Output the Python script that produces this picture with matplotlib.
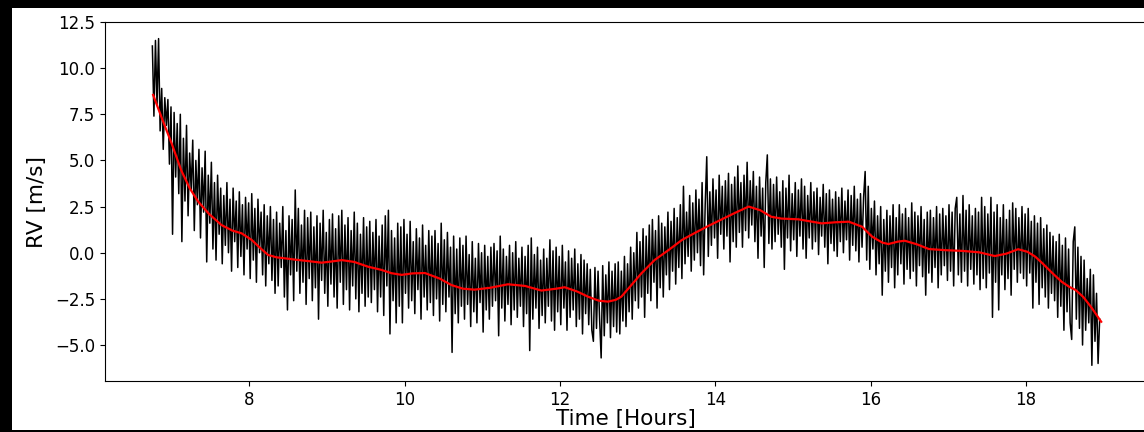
import numpy as np
import matplotlib
matplotlib.use("Agg")
import matplotlib.pyplot as plt
from matplotlib.patches import Rectangle

# ---- data ----
t_start = 6.75      # hours
t_step = 0.02       # hours between samples

rv_raw = [
    11.2, 7.4, 11.5, 8.0, 11.6, 6.6, 8.9, 5.6, 8.4, 6.9, 8.3, 4.8, 7.9, 1.0, 7.6, 4.1, 7.0, 3.2, 7.5, 0.6,
    6.2, 2.8, 6.9, 2.0, 5.4, 3.4, 6.1, 1.2, 5.0, 2.6, 5.6, 0.8, 4.6, 2.2, 5.5, -0.5, 4.2, 1.6, 4.9, 0.2,
    3.8, -0.4, 4.2, 1.0, 3.5, -0.6, 3.1, 0.4, 3.8, 0.0, 2.9, -1.0, 3.5, 0.6, 2.8, -0.8, 3.3, -0.2, 2.6, -1.2,
    3.0, 0.2, 2.7, -1.4, 3.2, -0.4, 2.4, -1.6, 2.9, 0.0, 2.2, -1.2, 2.6, -1.8, 2.0, -0.6, 2.5, -1.5, 1.8, -2.2,
    2.2, -1.8, 1.6, -0.8, 2.5, -2.4, 1.2, -3.1, 2.0, -1.2, 1.8, -2.6, 3.4, -1.0, 2.4, -2.2, 1.5, -1.6, 2.3, -2.8,
    1.9, -1.4, 2.2, -2.6, 1.4, -1.9, 2.0, -3.6, 1.6, -1.5, 2.3, -2.2, 1.1, -2.9, 1.8, -1.7, 2.1, -2.4, 1.3, -3.0,
    2.0, -1.6, 2.3, -2.8, 1.5, -2.0, 1.9, -3.1, 1.2, -1.8, 2.2, -2.5, 1.6, -3.2, 1.0, -2.2, 1.9, -2.9, 1.4, -2.4,
    1.7, -2.7, 1.1, -2.0, 1.8, -3.2, 0.9, -2.4, 1.5, -3.4, 2.0, -1.8, 2.3, -4.4, 1.2, -2.6, 0.8, -3.8, 1.6, -2.9,
    1.4, -3.8, 1.8, -2.2, 1.0, -3.0, 1.7, -2.6, 0.6, -3.3, 1.3, -2.0, 0.8, -3.6, 1.5, -2.4, 0.4, -3.1, 1.2, -2.7,
    0.9, -3.4, 1.2, -2.5, 0.5, -3.7, 1.6, -2.8, 0.7, -3.2, 1.1, -2.4, 0.3, -5.4, 0.9, -3.3, 0.2, -3.8, 0.8, -2.9,
    0.4, -3.6, 0.9, -2.8, -0.1, -4.0, 0.6, -3.2, -0.3, -3.8, 0.5, -2.7, 0.0, -4.3, 0.4, -3.1, -0.2, -3.6, 0.3, -2.9,
    0.5, -2.6, 0.1, -4.5, 0.9, -3.0, 0.2, -3.7, -0.2, -2.8, 0.4, -3.9, 0.0, -3.1, 0.6, -3.5, -0.3, -2.9, 0.3, -4.0,
    -0.2, -3.3, 0.4, -5.3, 0.8, -3.6, -0.1, -3.0, 0.3, -4.1, -0.4, -3.4, 0.2, -3.8, -0.3, -2.9, 0.7, -3.7, 0.1, -4.2,
    0.3, -3.2, -0.2, -3.9, 0.4, -3.0, -0.5, -4.2, 0.1, -3.5, -0.3, -3.1, 0.2, -4.0, -0.6, -3.6, -0.1, -4.4, -0.4, -3.3,
    -0.6, -3.9, -0.9, -4.2, -4.8, -0.8, -4.1, -1.0, -3.6, -5.7, -0.7, -4.5, -1.2, -3.8, -0.5, -4.6, -1.0, -4.0, -0.6, -4.3,
    -0.5, -4.4, -1.0, -3.7, -0.2, -4.0, -0.6, -3.2, 0.3, -3.6, 0.0, -2.6, 1.1, -3.0, 0.6, -2.4, 1.3, -3.5, 0.9, -2.2,
    1.5, -2.6, 1.8, -1.6, 1.2, -3.0, 2.0, -1.9, 1.6, -2.4, 1.4, -1.2, 2.2, -2.0, 1.7, -1.0, 2.4, -1.7, 1.9, -0.8,
    2.6, -1.4, 3.6, -0.6, 2.2, -0.2, 3.1, -1.0, 2.7, -0.4, 3.4, 0.0, 2.9, -0.7, 3.8, -1.2, 2.6, 5.2, -0.2, 3.3,
    0.4, 4.0, 0.8, 3.4, -0.3, 4.2, 1.0, 3.6, 0.2, 3.9, 0.9, 4.3, -0.5, 3.7, 0.6, 4.1, 0.3, 4.7, 1.1, 3.8,
    0.3, 4.2, 1.2, 4.9, 0.8, 3.9, 1.5, 4.4, 0.6, 3.6, -0.3, 4.1, 0.9, 3.5, -0.8, 3.8, 5.3, 0.5, 4.0, 0.2,
    3.7, 0.6, 4.1, 1.0, 3.3, 0.3, 3.9, -0.9, 3.5, 0.8, 4.2, 0.1, 3.2, 0.7, 3.8, -0.2, 3.4, 0.9, 4.0, 0.2,
    3.6, -0.3, 3.1, 0.8, 3.8, 0.2, 3.3, 0.6, 3.5, -0.1, 3.0, 0.9, 3.7, 0.3, 3.2, -0.6, 3.4, 0.5, 2.9, 0.1,
    3.3, -0.2, 3.0, 0.6, 3.5, 0.0, 2.8, 0.7, 3.4, -0.4, 3.1, 0.4, 3.6, 0.1, 2.9, -0.5, 3.2, 0.3, 3.0, 4.4,
    -0.4, 3.6, -0.9, 2.4, 0.2, 2.8, -1.2, 2.0, -0.6, 2.5, -2.3, 1.8, -1.0, 2.3, -1.6, 2.0, -0.8, 2.6, -1.9, 1.9,
    -1.2, 2.6, -0.6, 2.1, -1.7, 2.4, -0.9, 1.9, -1.4, 2.7, -1.0, 2.2, -1.8, 2.0, -0.7, 2.5, -1.3, 1.8, -2.3, 2.2,
    -1.1, 2.3, -1.6, 1.9, -0.8, 2.5, -1.9, 2.1, -1.2, 2.4, -0.7, 2.0, -1.5, 2.6, -1.0, 2.2, -1.8, 2.4, 3.0, -1.2,
    2.1, -1.6, 3.1, -1.0, 2.3, -1.8, 2.6, -0.9, 2.0, -1.7, 2.4, -1.2, 2.2, -2.0, 3.0, -1.4, 2.5, -1.9, 2.1, -1.1,
    3.0, -3.5, 2.2, -1.6, 2.6, -3.1, 1.9, -1.2, 2.6, -2.0, 1.8, -1.4, 2.3, -2.3, 2.7, -0.9, 2.4, -1.6, 1.9, -1.1,
    2.5, -1.4, 2.1, -1.8, 2.4, -1.1, 1.7, -3.0, 2.0, -1.6, 1.6, -2.8, 1.9, -1.9, 1.3, -2.4, 1.5, -3.0, 1.1, -2.2,
    0.9, -2.6, 0.6, -3.5, 1.0, -2.9, 0.4, -4.2, 0.8, -3.2, 0.2, -3.8, -4.7, 0.6, 1.4, -3.6, 0.3, -4.1, -0.2, -5.0,
    -0.4, -4.2, -1.4, -3.8, -0.9, -6.1, -1.2, -4.8, -2.2, -6.0, -3.6,
]

smooth_t = [6.76, 6.88, 7.00, 7.12, 7.23, 7.34, 7.48, 7.64, 7.78, 7.90, 8.03, 8.14, 8.24, 8.35,
            8.45, 8.60, 8.75, 8.93, 9.05, 9.19, 9.35, 9.53, 9.70, 9.83, 9.96, 10.10, 10.26,
            10.45, 10.60, 10.75, 10.90, 11.10, 11.33, 11.55, 11.76, 11.95, 12.06, 12.22, 12.36,
            12.50, 12.62, 12.72, 12.79, 12.92, 13.05, 13.22, 13.40, 13.57, 13.75, 13.91, 14.08,
            14.25, 14.43, 14.58, 14.72, 14.85, 15.07, 15.22, 15.37, 15.55, 15.72, 15.89, 16.02,
            16.15, 16.23, 16.35, 16.44, 16.60, 16.75, 16.95, 17.18, 17.40, 17.60, 17.75, 17.90,
            18.02, 18.12, 18.22, 18.34, 18.46, 18.56, 18.64, 18.74, 18.85, 18.97]
smooth_rv = [8.55, 7.20, 5.90, 4.48, 3.50, 2.77, 2.10, 1.50, 1.20, 1.05, 0.69, 0.25, -0.12, -0.25,
             -0.30, -0.38, -0.45, -0.54, -0.48, -0.40, -0.50, -0.76, -0.93, -1.11, -1.20, -1.12, -1.10,
             -1.40, -1.75, -1.95, -2.00, -1.90, -1.71, -1.80, -2.05, -1.95, -1.87, -2.10, -2.38,
             -2.60, -2.65, -2.55, -2.38, -1.75, -1.11, -0.39, 0.15, 0.69, 1.10, 1.45, 1.80,
             2.15, 2.50, 2.30, 1.95, 1.85, 1.81, 1.70, 1.59, 1.65, 1.68, 1.41, 0.87,
             0.55, 0.47, 0.60, 0.65, 0.45, 0.20, 0.14, 0.10, 0.02, -0.18, -0.05, 0.19,
             0.05, -0.21, -0.60, -1.10, -1.57, -1.85, -2.02, -2.40, -3.00, -3.74]

x_label = "Time [Hours]"
y_label = "RV [m/s]"

# ---- figure ----
W, H, DPI = 1144, 432, 100
fig = plt.figure(figsize=(W / DPI, H / DPI), dpi=DPI, facecolor="black")
# white canvas region of the screenshot (black frame on top/left)
bg = Rectangle((12 / W, 2 / H), 1 - 12 / W, 1 - 10 / H,
               transform=fig.transFigure, facecolor="white",
               edgecolor="none", zorder=-10)
fig.patches.append(bg)

ax = fig.add_axes([105 / W, 1 - 381 / H, (1147 - 105) / W, (381 - 22) / H])
ax.set_zorder(5)
ax.set_facecolor("white")

rv_t = t_start + t_step * np.arange(len(rv_raw))
ax.plot(rv_t, rv_raw, color="black", lw=1.1)
ax.plot(smooth_t, smooth_rv, color="red", lw=1.6)

ax.set_xlim(6.14, 19.56)
ax.set_ylim(-6.95, 12.5)
ax.set_xticks([8, 10, 12, 14, 16, 18])
ax.set_yticks([-5.0, -2.5, 0.0, 2.5, 5.0, 7.5, 10.0, 12.5])
ax.tick_params(labelsize=12)
ax.set_xlabel(x_label, fontsize=15.5, labelpad=0)
ax.set_ylabel(y_label, fontsize=15.5, labelpad=6)

fig.savefig("out.png", dpi=DPI, facecolor=fig.get_facecolor())
